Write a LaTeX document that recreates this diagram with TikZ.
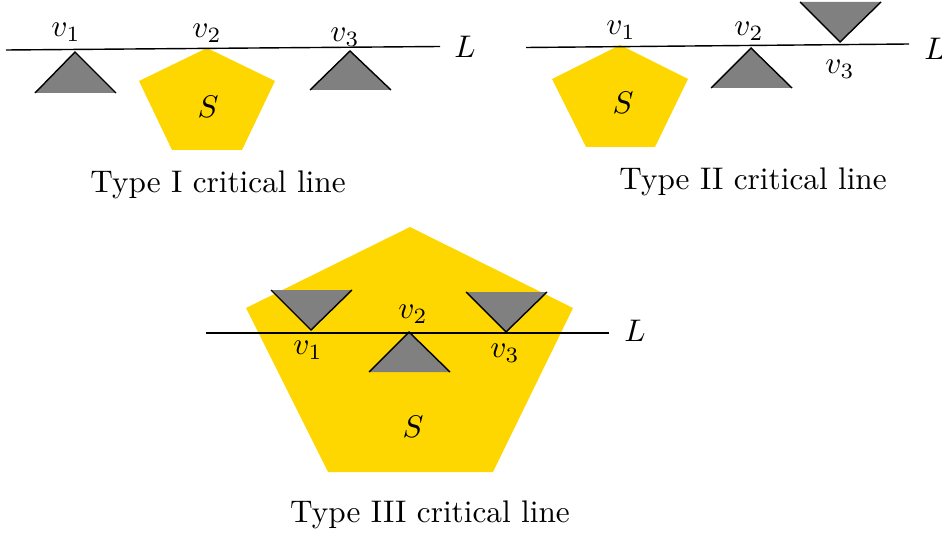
\documentclass[tikz,border=0pt]{standalone}
\begin{document}
\begin{tikzpicture}[x=0.32pt,y=-0.32pt,
  pent/.style={fill={rgb,255:red,255;green,215;blue,0}},
  tri/.style={fill={rgb,255:red,128;green,128;blue,128}},
  edge/.style={draw=black,line width=0.45pt,line join=miter},
  lab/.style={inner sep=0pt,font=\normalsize}]
\useasboundingbox (0,0) rectangle (942,538);
% ---------- Type I ----------
\fill[pent] (207,48) -- (139,81) -- (172,150) -- (242,150) -- (275,81) -- cycle;
\coordinate (a1) at (75,52);
\fill[tri] (35,93) -- (a1) -- (116,93) -- cycle;
\draw[edge] (35,93) -- (a1) -- (116,93);
\coordinate (a3) at (350,51);
\fill[tri] (310,90) -- (a3) -- (391,90) -- cycle;
\draw[edge] (310,90) -- (a3) -- (391,90);
\coordinate (l1s) at (6,50);
\coordinate (l1e) at (440,46.5);
\draw[edge] (l1s) -- (l1e);
\node[lab] (L1) at (465,47) {$L$};
\node[lab] (v11) at (66,32) {$v_1$};
\node[lab] (v12) at (207,33) {$v_2$};
\node[lab] (v13) at (345,37) {$v_3$};
\node[lab] (S1) at (208,107) {$S$};
\node[lab] (T1) at (218,185) {Type I critical line};
% ---------- Type II ----------
\fill[pent] (620,45) -- (552,79) -- (586,147) -- (655,147) -- (688,79) -- cycle;
\coordinate (b2) at (751,48);
\fill[tri] (711,88) -- (b2) -- (792,88) -- cycle;
\draw[edge] (711,88) -- (b2) -- (792,88);
\coordinate (b3) at (840,42);
\fill[tri] (800,2) -- (b3) -- (881,2) -- cycle;
\draw[edge] (800,2) -- (b3) -- (881,2);
\coordinate (l2s) at (526,47.5);
\coordinate (l2e) at (909,44);
\draw[edge] (l2s) -- (l2e);
\node[lab] (L2) at (935,49) {$L$};
\node[lab] (v21) at (621,30) {$v_1$};
\node[lab] (v22) at (749,31) {$v_2$};
\node[lab] (v23) at (840,69) {$v_3$};
\node[lab] (S2) at (623,103) {$S$};
\node[lab] (T2) at (753,182) {Type II critical line};
% ---------- Type III ----------
\fill[pent] (410,227) -- (246,308) -- (328,472) -- (493,472) -- (573,308) -- cycle;
\coordinate (c1) at (311,330);
\fill[tri] (271,290) -- (c1) -- (352,290) -- cycle;
\draw[edge] (271,290) -- (c1) -- (352,290);
\coordinate (c3) at (506,332);
\fill[tri] (466,292) -- (c3) -- (547,292) -- cycle;
\draw[edge] (466,292) -- (c3) -- (547,292);
\coordinate (c2) at (409,332);
\fill[tri] (369,372) -- (c2) -- (450,372) -- cycle;
\draw[edge] (369,372) -- (c2) -- (450,372);
\coordinate (l3s) at (206,333);
\coordinate (l3e) at (609,333);
\draw[edge] (l3s) -- (l3e);
\node[lab] (L3) at (635,331) {$L$};
\node[lab] (v31) at (308,350) {$v_1$};
\node[lab] (v32) at (413,314) {$v_2$};
\node[lab] (v33) at (505,353) {$v_3$};
\node[lab] (S3) at (413,427) {$S$};
\node[lab] (T3) at (430,515) {Type III critical line};
\end{tikzpicture}
\end{document}
